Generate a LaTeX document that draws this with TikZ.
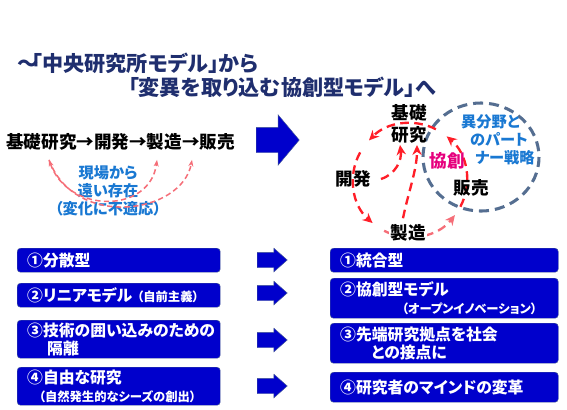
\documentclass[tikz,border=0pt]{standalone}
\usepackage{fontspec}
\setmainfont{Noto Sans CJK JP}[RawFeature=+palt]
\usetikzlibrary{shapes.arrows,arrows.meta,positioning,calc}

\definecolor{titlenavy}{RGB}{31,46,110}
\definecolor{boxblue}{RGB}{0,0,204}
\definecolor{boxedge}{RGB}{70,90,150}
\definecolor{arcred}{RGB}{255,30,40}
\definecolor{arcpink}{RGB}{245,110,120}
\definecolor{skyblue}{RGB}{25,120,210}
\definecolor{slate}{RGB}{85,110,145}
\definecolor{kyomag}{RGB}{230,0,125}

\newcommand{\smalltxt}[1]{{\fontsize{10.5}{12}\selectfont #1}}

\begin{document}
\begin{tikzpicture}[
    x=0.03cm, y=-0.03cm,
    heading/.style={anchor=west, inner sep=0pt, text=titlenavy, font=\fontsize{18}{22}\selectfont\bfseries},
    stage/.style={inner sep=1pt, font=\fontsize{15}{19}\selectfont\bfseries},
    note/.style={inner sep=0pt, align=center, text=skyblue, font=\fontsize{13}{15.5}\selectfont\bfseries},
    plan/.style={rectangle, draw=boxedge, fill=boxblue, rounded corners=1mm, anchor=north west, text=white, align=left, inner xsep=3mm, inner ysep=0pt, font=\fontsize{13.5}{15.5}\selectfont\bfseries},
    oldplan/.style={plan, text width=54.9mm},
    newplan/.style={plan, text width=62.4mm},
    shiftarrow/.style={single arrow, draw=boxedge, fill=boxblue, anchor=tail, inner xsep=0pt},
    redarc/.style={draw=arcred, line width=2pt, dash pattern=on 2.6mm off 1.6mm, -{Stealth[length=3mm,width=2.8mm]}},
    pinkarc/.style={draw=arcpink, line width=1.3pt, dash pattern=on 1.6mm off 1mm},
]
\useasboundingbox (0,0) rectangle (567,409);

% --- Title ---
\node[heading] (title1) at (17,63) {～\kern-.3em「中央研究所モデル」から};
\node[heading] (title2) at (128,87) {「変異を取り込む協創型モデル」へ};

% --- Left: linear model ---
\node[stage, anchor=west] (chain) at (5,142) {基礎研究→開発→製造→販売};
\node[note] (remote) at (108,191) {現場から\\遠い存在\\（変化に不適応）};
\draw[pinkarc, {Stealth[length=2mm]}-{Stealth[length=2mm]}] ($(chain.south west)+(44,8)$) .. controls (68,214) and (150,214) .. ($(chain.south west)+(152,8)$);
\draw[pinkarc, -{Stealth[length=2mm]}] ($(chain.south west)+(44,8)$) .. controls (75,230) and (182,214) .. ($(chain.south west)+(187,8)$);

% --- Big arrow ---
\node[shiftarrow, minimum height=12.9mm, inner ysep=3.75mm, single arrow head extend=3.75mm, single arrow tip angle=100] (bigshift) at (256,140) {};

% --- Right: cycle model ---
\coordinate (cyc) at (410,180);
\draw[slate, line width=2.6pt, dash pattern=on 3mm off 1.8mm] (481,157) ellipse [x radius=58, y radius=54];
\draw[redarc] ($(cyc)+(-63:57)$) arc[start angle=-63, end angle=-136, radius=57];
\draw[redarc] ($(cyc)+(-151:57)$) arc[start angle=-151, end angle=-229, radius=57];
\draw[redarc, draw=arcpink] ($(cyc)+(117:57)$) arc[start angle=117, end angle=38, radius=57];
\draw[redarc] ($(cyc)+(28:57)$) arc[start angle=28, end angle=-50, radius=57];

\node[stage, align=center] (kiso) at (409,124) {基礎\\研究};
\node[stage] (kaihatsu) at (353,179) {開発};
\node[stage, fill=white] (seizo) at (408,233) {製造};
\node[stage] (hanbai) at (471,188) {販売};
\node[stage, text=kyomag] (kyoso) at (447,161) {協創};
\node[note, align=left, anchor=west] (partner) at (461,140) {異分野と\\\hspace*{2.7mm}のパート\\\hspace*{4.2mm}ナー戦略};

\draw[redarc] ([xshift=2.7mm]kaihatsu.east) .. controls +(15,-5) and +(2,15) .. ([xshift=-2.7mm]kiso.south);
\draw[redarc] ([xshift=-1.5mm,yshift=1.5mm]seizo.north) .. controls +(5,-25) and +(0,25) .. ([xshift=2.4mm]kiso.south);

% --- Bottom: old vs new ---
\node[oldplan, minimum height=7.2mm] (old1) at (17,248) {①分散型};
\node[oldplan, minimum height=7.2mm] (old2) at (17,283) {②リニアモデル\hspace{1.5mm}\smalltxt{（自前主義）}};
\node[oldplan, minimum height=11.4mm] (old3) at (17,320) {③技術の囲い込みのための\\\hspace*{6mm}隔離};
\node[oldplan, minimum height=11.4mm] (old4) at (17,367) {④自由な研究\\\hspace*{3.5mm}\smalltxt{（自然発生的なシーズの創出）}};

\node[newplan, minimum height=7.2mm] (new1) at (330,248) {①統合型};
\node[newplan, minimum height=12mm] (new2) at (330,278) {②協創型モデル\\\hspace*{18.5mm}\smalltxt{（オープンイノベーション）}};
\node[newplan, minimum height=12mm] (new3) at (330,323) {③先端研究拠点を社会\\\hspace*{9.3mm}との接点に};
\node[newplan, minimum height=9mm] (new4) at (330,372) {④研究者のマインドの変革};

\foreach \name/\ypos in {s1/260, s2/293, s3/340, s4/386}
  \node[shiftarrow, minimum height=9mm, inner ysep=2.25mm, single arrow head extend=1.2mm, single arrow tip angle=83] (\name) at (257,\ypos) {};

\end{tikzpicture}
\end{document}
